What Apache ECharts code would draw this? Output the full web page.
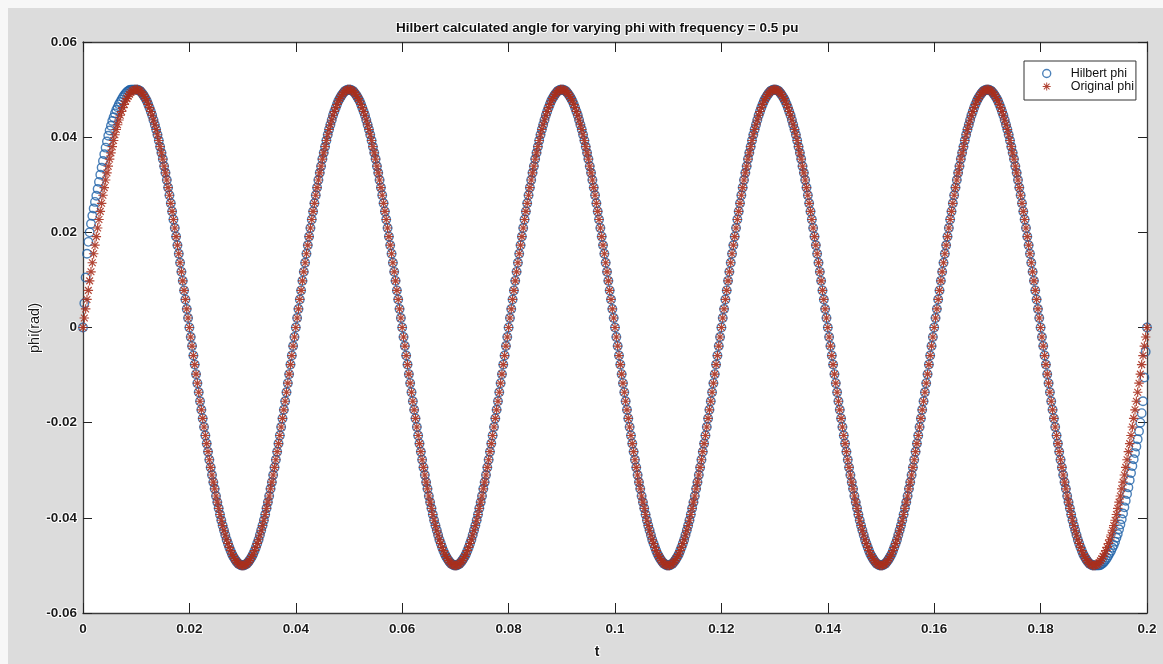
<!DOCTYPE html>
<html>
<head>
<meta charset="utf-8">
<script src="https://cdn.jsdelivr.net/npm/echarts@6/dist/echarts.min.js"></script>
<style>
html,body{margin:0;padding:0;background:#fff;}
#chart{width:1163px;height:664px;}
</style>
</head>
<body>
<div id="chart"></div>
<script>
// ---- data (phi values in units of 1e-4 rad, sampled every dt seconds) ----
const dt = 0.00025;
const titleText = 'Hilbert calculated angle for varying phi with frequency = 0.5 pu';
const xAxisTitle = 't';
const yAxisTitle = 'phi(rad)';
const seriesNames = ['Hilbert phi', 'Original phi'];
const xTickRange = [0, 0.2, 0.02];
const yTickRange = [-0.06, 0.06, 0.02];

const originalPhi = [
0,20,39,59,78,98,117,136,155,173,191,209,227,244,261,278,294,310,325,339,354,367,380,393,405,416,426,436,446,454,462,469,476,481,486,490,494,497,498,500,500,500,498,497,494,490,486,481,476,469,462,454,446,436,426,416,405,393,380,367,354,339,325,310,294,278,261,244,227,209,191,173,155,136,117,98,78,59,39,20,
0,-20,-39,-59,-78,-98,-117,-136,-155,-173,-191,-209,-227,-244,-261,-278,-294,-310,-325,-339,-354,-367,-380,-393,-405,-416,-426,-436,-446,-454,-462,-469,-476,-481,-486,-490,-494,-497,-498,-500,-500,-500,-498,-497,-494,-490,-486,-481,-476,-469,-462,-454,-446,-436,-426,-416,-405,-393,-380,-367,-354,-339,-325,-310,-294,-278,-261,-244,-227,-209,-191,-173,-155,-136,-117,-98,-78,-59,-39,-20,
0,20,39,59,78,98,117,136,155,173,191,209,227,244,261,278,294,310,325,339,354,367,380,393,405,416,426,436,446,454,462,469,476,481,486,490,494,497,498,500,500,500,498,497,494,490,486,481,476,469,462,454,446,436,426,416,405,393,380,367,354,339,325,310,294,278,261,244,227,209,191,173,155,136,117,98,78,59,39,20,
0,-20,-39,-59,-78,-98,-117,-136,-155,-173,-191,-209,-227,-244,-261,-278,-294,-310,-325,-339,-354,-367,-380,-393,-405,-416,-426,-436,-446,-454,-462,-469,-476,-481,-486,-490,-494,-497,-498,-500,-500,-500,-498,-497,-494,-490,-486,-481,-476,-469,-462,-454,-446,-436,-426,-416,-405,-393,-380,-367,-354,-339,-325,-310,-294,-278,-261,-244,-227,-209,-191,-173,-155,-136,-117,-98,-78,-59,-39,-20,
0,20,39,59,78,98,117,136,155,173,191,209,227,244,261,278,294,310,325,339,354,367,380,393,405,416,426,436,446,454,462,469,476,481,486,490,494,497,498,500,500,500,498,497,494,490,486,481,476,469,462,454,446,436,426,416,405,393,380,367,354,339,325,310,294,278,261,244,227,209,191,173,155,136,117,98,78,59,39,20,
0,-20,-39,-59,-78,-98,-117,-136,-155,-173,-191,-209,-227,-244,-261,-278,-294,-310,-325,-339,-354,-367,-380,-393,-405,-416,-426,-436,-446,-454,-462,-469,-476,-481,-486,-490,-494,-497,-498,-500,-500,-500,-498,-497,-494,-490,-486,-481,-476,-469,-462,-454,-446,-436,-426,-416,-405,-393,-380,-367,-354,-339,-325,-310,-294,-278,-261,-244,-227,-209,-191,-173,-155,-136,-117,-98,-78,-59,-39,-20,
0,20,39,59,78,98,117,136,155,173,191,209,227,244,261,278,294,310,325,339,354,367,380,393,405,416,426,436,446,454,462,469,476,481,486,490,494,497,498,500,500,500,498,497,494,490,486,481,476,469,462,454,446,436,426,416,405,393,380,367,354,339,325,310,294,278,261,244,227,209,191,173,155,136,117,98,78,59,39,20,
0,-20,-39,-59,-78,-98,-117,-136,-155,-173,-191,-209,-227,-244,-261,-278,-294,-310,-325,-339,-354,-367,-380,-393,-405,-416,-426,-436,-446,-454,-462,-469,-476,-481,-486,-490,-494,-497,-498,-500,-500,-500,-498,-497,-494,-490,-486,-481,-476,-469,-462,-454,-446,-436,-426,-416,-405,-393,-380,-367,-354,-339,-325,-310,-294,-278,-261,-244,-227,-209,-191,-173,-155,-136,-117,-98,-78,-59,-39,-20,
0,20,39,59,78,98,117,136,155,173,191,209,227,244,261,278,294,310,325,339,354,367,380,393,405,416,426,436,446,454,462,469,476,481,486,490,494,497,498,500,500,500,498,497,494,490,486,481,476,469,462,454,446,436,426,416,405,393,380,367,354,339,325,310,294,278,261,244,227,209,191,173,155,136,117,98,78,59,39,20,
0,-20,-39,-59,-78,-98,-117,-136,-155,-173,-191,-209,-227,-244,-261,-278,-294,-310,-325,-339,-354,-367,-380,-393,-405,-416,-426,-436,-446,-454,-462,-469,-476,-481,-486,-490,-494,-497,-498,-500,-500,-500,-498,-497,-494,-490,-486,-481,-476,-469,-462,-454,-446,-436,-426,-416,-405,-393,-380,-367,-354,-339,-325,-310,-294,-278,-261,-244,-227,-209,-191,-173,-155,-136,-117,-98,-78,-59,-39,-20,
0
];

// Hilbert phi departs from the original only at the two ends (first and last 41 samples);
// in between it lies on the original samples.
const hilbertStart = [0,51,105,155,180,200,218,235,250,264,277,291,306,321,336,350,364,378,391,403,414,424,434,442,450,457,463,469,474,479,484,488,492,495,497,499,500,500,500,500,500];
const hilbertEnd = [-500,-500,-500,-500,-500,-499,-497,-495,-492,-488,-484,-479,-474,-469,-463,-457,-450,-442,-434,-424,-414,-403,-391,-378,-364,-350,-336,-321,-306,-291,-277,-264,-250,-235,-218,-200,-180,-155,-105,-51,0];

// ---- build series ----
const hilbertPhi = originalPhi.slice();
hilbertStart.forEach((v, i) => { hilbertPhi[i] = v; });
hilbertEnd.forEach((v, i) => { hilbertPhi[originalPhi.length - hilbertEnd.length + i] = v; });

const toPoints = arr => arr.map((v, i) => [+(i * dt).toFixed(5), v / 10000]);

const FONT = '"Liberation Sans", Arial, sans-serif';
const BLUE = '#1f62a8';
const RED = '#a8301e';
const STAR = 'path://M8.8 0L11.2 0L11.2 20L8.8 20Z M0 8.8L20 8.8L20 11.2L0 11.2Z M3.75 2.05L17.95 16.25L16.25 17.95L2.05 3.75Z M16.25 2.05L17.95 3.75L3.75 17.95L2.05 16.25Z';

const labelStyle = {
  fontFamily: FONT, fontSize: 13.5, fontWeight: 'bold', color: '#1a1a1a',
  textBorderColor: '#ffffff', textBorderWidth: 2
};
const axisLineStyle = { lineStyle: { color: '#3c3c3c', width: 1.3 } };

function xAxisCfg(pos, showLabel) {
  return {
    type: 'value', position: pos, min: xTickRange[0], max: xTickRange[1], interval: xTickRange[2],
    axisLine: Object.assign({ show: true, onZero: false }, axisLineStyle),
    axisTick: { show: true, inside: true, length: 10, lineStyle: { color: '#222', width: 1 } },
    axisLabel: Object.assign({ show: showLabel, margin: 9 }, labelStyle),
    splitLine: { show: false }
  };
}
function yAxisCfg(pos, showLabel) {
  return {
    type: 'value', position: pos, min: yTickRange[0], max: yTickRange[1], interval: yTickRange[2],
    axisLine: Object.assign({ show: true, onZero: false }, axisLineStyle),
    axisTick: { show: true, inside: true, length: 9, lineStyle: { color: '#222', width: 1 } },
    axisLabel: Object.assign({ show: showLabel, margin: 6 }, labelStyle),
    splitLine: { show: false }
  };
}

const chart = echarts.init(document.getElementById('chart'), null, { renderer: 'canvas' });
chart.setOption({
  animation: false,
  backgroundColor: '#dcdcdc',
  title: {
    text: titleText, left: 396, top: 21, padding: 0,
    textStyle: { fontFamily: FONT, fontSize: 13.5, fontWeight: 'bold', color: '#111', textBorderColor: '#fff', textBorderWidth: 2 }
  },
  grid: { left: 83, right: 16, top: 42, bottom: 51, show: true, backgroundColor: '#ffffff', borderWidth: 0 },
  xAxis: [xAxisCfg('bottom', true), xAxisCfg('top', false)],
  yAxis: [yAxisCfg('left', true), yAxisCfg('right', false)],
  legend: {
    left: 1024, top: 61, orient: 'vertical',
    padding: [6, 2, 7, 18], itemGap: 0, itemWidth: 38, itemHeight: 8,
    backgroundColor: '#ffffff', borderColor: '#333', borderWidth: 1, borderRadius: 0,
    textStyle: { fontFamily: FONT, fontSize: 12.5, color: '#111', lineHeight: 13 },
    data: [
      { name: seriesNames[0], icon: 'circle', itemStyle: { color: 'transparent', borderColor: BLUE, borderWidth: 1.4 } },
      { name: seriesNames[1], icon: STAR, itemStyle: { color: RED, borderWidth: 0 } }
    ]
  },
  graphic: [
    { type: 'rect', shape: { x: 0, y: 0, width: 1163, height: 8 }, style: { fill: '#f7f7f7' }, silent: true, z: -1 },
    { type: 'rect', shape: { x: 0, y: 0, width: 8, height: 664 }, style: { fill: '#f7f7f7' }, silent: true, z: -1 },
    { type: 'text', x: 597, y: 652, silent: true,
      style: { text: xAxisTitle, fontFamily: FONT, fontSize: 14, fontWeight: 'bold', fill: '#1a1a1a',
               textAlign: 'center', textVerticalAlign: 'middle', stroke: '#fff', lineWidth: 2 } },
    { type: 'text', x: 35, y: 328, rotation: Math.PI / 2, silent: true,
      style: { text: yAxisTitle, fontFamily: FONT, fontSize: 14.5, fill: '#1a1a1a',
               textAlign: 'center', textVerticalAlign: 'middle', stroke: '#fff', lineWidth: 2 } }
  ],
  series: [
    {
      name: seriesNames[0], type: 'scatter', xAxisIndex: 0, yAxisIndex: 0,
      symbol: 'circle', symbolSize: 8.5,
      itemStyle: { color: 'transparent', borderColor: BLUE, borderWidth: 1.4 },
      data: toPoints(hilbertPhi), z: 2
    },
    {
      name: seriesNames[1], type: 'scatter', xAxisIndex: 0, yAxisIndex: 0,
      symbol: STAR, symbolSize: 9.5,
      itemStyle: { color: RED, opacity: 0.9 },
      data: toPoints(originalPhi), z: 3
    }
  ]
});
</script>
</body>
</html>
